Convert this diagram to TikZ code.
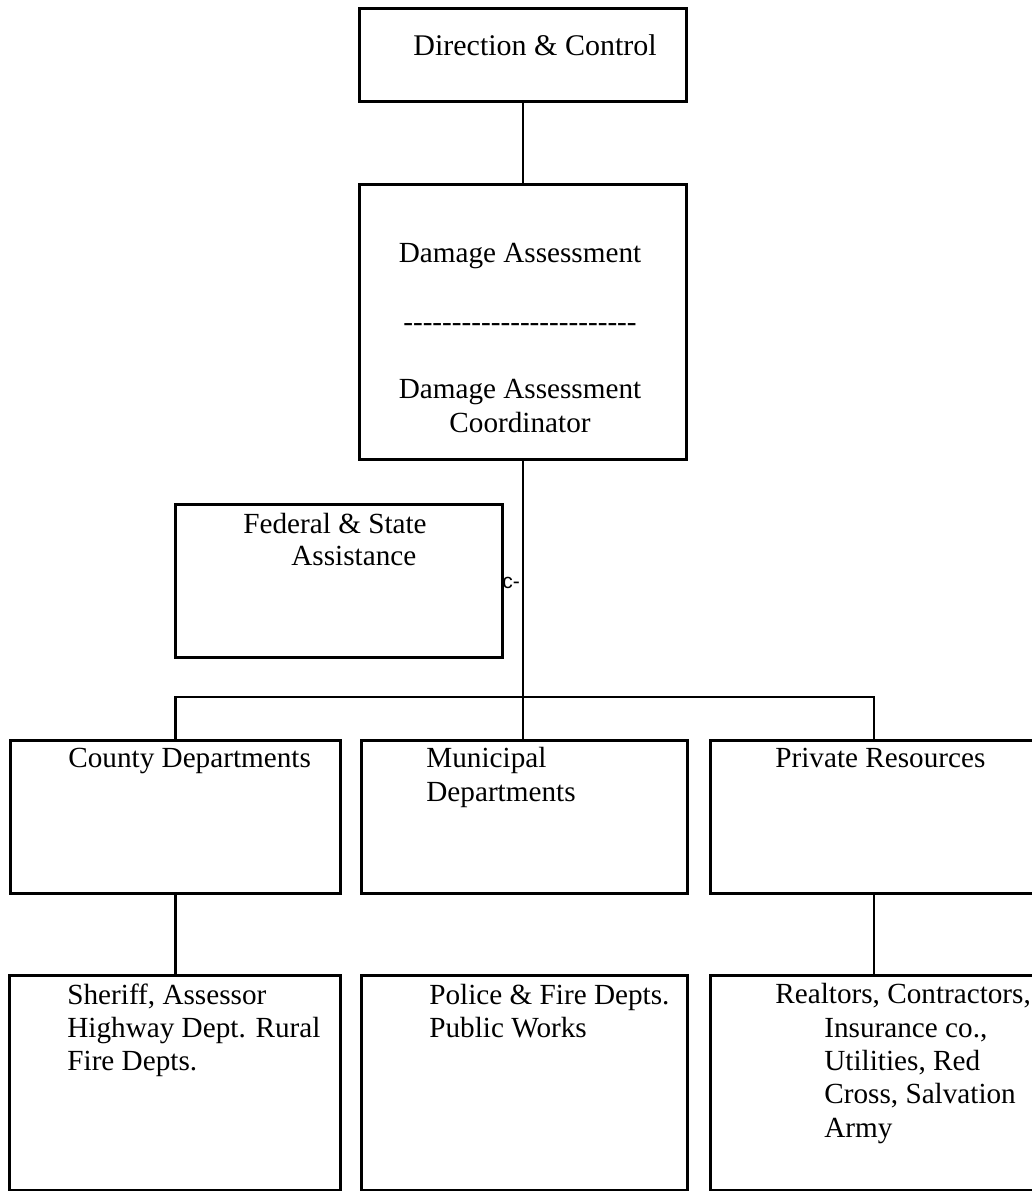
\documentclass[tikz,border=0pt]{standalone}
\usepackage{fontspec}
\setmainfont{Liberation Serif}
\newfontfamily\arialfont{Liberation Sans}
\newcommand\hy{-\kern0pt}
\begin{document}
\begin{tikzpicture}[x=1pt,y=-1pt,
  line width=2.8pt,
  box/.style={draw, rectangle, inner sep=0pt, anchor=north west},
  txt/.style={inner sep=0pt, anchor=base west, font=\fontsize{29.2}{34}\selectfont},
  ctxt/.style={txt, anchor=base},
  link/.style={draw, line width=2.8pt}]
\useasboundingbox (0,0) rectangle (1032,1191);

% boxes
\node[box, minimum width=327pt, minimum height=93pt]  (dc)  at (358,7)   {};
\node[box, minimum width=327pt, minimum height=275pt] (da)  at (358,183) {};
\node[box, minimum width=327pt, minimum height=153pt] (fed) at (174,503) {};
\node[box, minimum width=330pt, minimum height=153pt] (cty) at (9,739)   {};
\node[box, minimum width=326pt, minimum height=153pt] (mun) at (360,739) {};
\node[box, minimum width=327pt, minimum height=153pt] (pri) at (709,739) {};
\node[box, minimum width=331pt, minimum height=215pt] (sh)  at (8,974)   {};
\node[box, minimum width=326pt, minimum height=215pt] (po)  at (360,974) {};
\node[box, minimum width=327pt, minimum height=215pt] (re)  at (709,974) {};

% connectors
\coordinate (bar) at (522,697);
\draw[link] (dc.south) -- (da.north);
\draw[link] (da.south) -- (da.south |- mun.north);
\draw[link] (cty.north) |- (bar) -| (pri.north);
\draw[link] (cty.south) -- (cty.south |- sh.north);
\draw[link] (pri.south) -- (pri.south |- re.north);

% labels
\node[txt, font=\fontsize{30}{34}\selectfont] (tdc) at (412,55) {Direction \& Control};
\node[ctxt] (tda1)  at (520,262) {Damage Assessment};
\node[ctxt] (tdash) at (520,331) {\hy\hy\hy\hy\hy\hy\hy\hy\hy\hy\hy\hy\hy\hy\hy\hy\hy\hy\hy\hy\hy\hy\hy\hy};
\node[ctxt] (tda2)  at (520,398) {Damage Assessment};
\node[ctxt] (tda3)  at (520,432) {Coordinator};

\node[txt] (tfed1) at (242,533) {Federal \& State};
\node[txt] (tfed2) at (290,565) {Assistance};
\node[inner sep=0pt, anchor=base west, font=\arialfont\fontsize{21}{24}\selectfont] (cmark) at (501,588) {c-};

\node[txt] (tcty)  at (67,767)  {County Departments};
\node[txt] (tmun1) at (425,767) {Municipal};
\node[txt] (tmun2) at (425,801) {Departments};
\node[txt] (tpri)  at (774,767) {Private Resources};

\node[txt] (tsh1) at (66,1004) {Sheriff, Assessor};
\node[txt] (tsh2) at (66,1037) {Highway Dept. Rural};
\node[txt] (tsh3) at (66,1070) {Fire Depts.};

\node[txt] (tpo1) at (428,1004) {Police \& Fire Depts.};
\node[txt] (tpo2) at (428,1037) {Public Works};

\node[txt] (tre1) at (774,1003) {Realtors, Contractors,};
\node[txt] (tre2) at (823,1037) {Insurance co.,};
\node[txt] (tre3) at (823,1070) {Utilities, Red};
\node[txt] (tre4) at (823,1103) {Cross, Salvation};
\node[txt] (tre5) at (823,1137) {Army};
\end{tikzpicture}
\end{document}
